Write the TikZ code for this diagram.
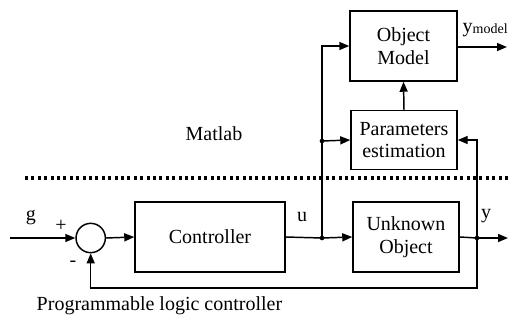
\documentclass[tikz,border=0pt]{standalone}
\usepackage{fontspec}
\setmainfont{Liberation Serif}
\usetikzlibrary{arrows.meta,calc}
\begin{document}
\begin{tikzpicture}[x=0.75pt,y=-0.75pt,
  font=\fontsize{15}{17}\selectfont,
  line width=1.1pt,
  blk/.style={draw,align=center,inner sep=0pt},
  arr/.style={-{Triangle[length=7.5pt,width=6pt]}},
  dot/.style={circle,fill,inner sep=0pt,minimum size=3.5pt},
  lbl/.style={inner sep=0pt}]
\useasboundingbox (0,0) rectangle (512,325);
% blocks
\node[blk,minimum width=80.25pt,minimum height=52.5pt] (model) at (403.5,46) {Object\\Model};
\node[blk,minimum width=79.5pt,minimum height=44.25pt] (param) at (404,140) {Parameters\\estimation};
\node[blk,minimum width=112.5pt,minimum height=52.5pt] (ctrl) at (210,237) {Controller};
\node[blk,minimum width=79.5pt,minimum height=52.5pt] (obj) at (406,237) {Unknown\\Object};
\node[draw,circle,minimum size=22pt,inner sep=0pt] (sum) at (90.7,238) {};
% coordinates
\coordinate (in) at (10,238);
\node[dot] (u) at (322,238) {};
\node[dot] (y) at (477,238) {};
\node[dot] (p) at (322,141) {};
\coordinate (yout) at (508,238);
\coordinate (ym) at (507,47);
\coordinate (fb) at (477,288);
% connectors
\draw[arr] (in) -- (sum.west);
\draw[arr] (sum.east) -- (ctrl.west);
\draw (ctrl.east) -- (u.center);
\draw[arr] (u.center) -- (obj.west);
\draw (obj.east) -- (y.center);
\draw[arr] (y.center) -- (yout);
\draw[arr] (u.center) |- (model.west);
\draw[arr] (p.center) -- (param.west);
\draw[arr] (y.center) |- (param.east);
\draw[arr] (param.north) -- (model.south);
\draw[arr] (model.east |- ym) -- (ym);
\draw[arr] (y.center) -- (fb) -| (sum.south);
% dotted separator
\draw[line width=2.3pt,dash pattern=on 2.3pt off 2.5pt] (25,178) -- (510,178);
% labels
\node[lbl] (g) at (31,218) {g};
\node[lbl] (plus) at (61,226) {+};
\node[lbl] (minus) at (73,264) {-};
\node[lbl] (ul) at (302,217) {u};
\node[lbl] (yl) at (486,216) {y};
\node[lbl,anchor=west] (yml) at (462,30) {y{\fontsize{10.5}{11}\selectfont\raisebox{-0.5pt}{model}}};
\node[lbl] (matlab) at (214,134) {Matlab};
\node[lbl,anchor=west] (plc) at (36,306) {Programmable logic controller};
\end{tikzpicture}
\end{document}
